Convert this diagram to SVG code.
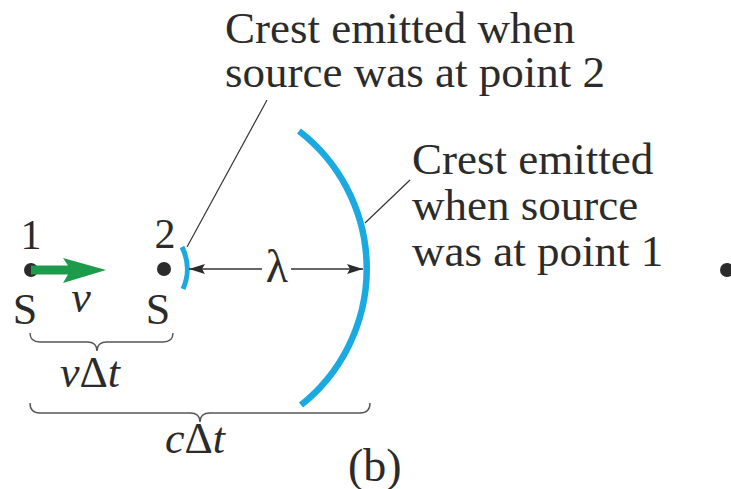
<svg xmlns="http://www.w3.org/2000/svg" width="731" height="489" viewBox="0 0 731 489">
<style>
text{font-family:"Liberation Serif","Times New Roman",serif;fill:#2b2b2b}
.lbl{font-size:45px}
.num{font-size:42px}
.sm{font-size:44px}
.it{font-style:italic}
.crest{fill:none;stroke:#1ba9e1;stroke-linecap:butt}
.lead{fill:none;stroke:#333;stroke-width:1.2}
.brace{fill:none;stroke:#555;stroke-width:1.4}
.dim{fill:none;stroke:#333;stroke-width:1.3}
.dot{fill:#2b2b2b}
</style>
<defs>
<marker id="ah" viewBox="0 0 16 10" refX="16" refY="5" markerWidth="16" markerHeight="10" markerUnits="userSpaceOnUse" orient="auto-start-reverse">
<path d="M0,0 L16,5 L0,10 L3,5 Z" fill="#2b2b2b"/>
</marker>
</defs>
<g id="point1">
<text class="num" x="31" y="249" text-anchor="middle">1</text>
<circle class="dot" cx="31" cy="270" r="7"/>
<text class="sm" x="25" y="324" text-anchor="middle">S</text>
</g>
<g id="velocity">
<path d="M31,265.5 L68,265.5 L63,258 L106,270 L63,283 L68,274.5 L31,274.5 Z" fill="#1d9b4c"/>
<text class="sm it" x="81" y="312" text-anchor="middle">v</text>
</g>
<g id="point2">
<text class="num" x="165" y="248" text-anchor="middle">2</text>
<circle class="dot" cx="164" cy="269" r="7"/>
<text class="sm" x="158" y="324" text-anchor="middle">S</text>
</g>
<g id="crest2">
<path class="crest" stroke-width="5" d="M182,247 A49,49 0 0 1 183,289"/>
</g>
<g id="crest1">
<path class="crest" stroke-width="6.5" d="M299,131 A174,174 0 0 1 301,405"/>
</g>
<g id="label2">
<text class="lbl" x="225" y="43">Crest emitted when</text>
<text class="lbl" x="225" y="87">source was at point 2</text>
</g>
<g id="label1">
<text class="lbl" x="412" y="174">Crest emitted</text>
<text class="lbl" x="412" y="220">when source</text>
<text class="lbl" x="412" y="266">was at point 1</text>
</g>
<g id="observer">
<circle class="dot" cx="727" cy="270" r="7"/>
</g>
<g id="connectors">
<line class="lead" x1="187" y1="247" x2="267" y2="100"/>
<line class="lead" x1="365" y1="223" x2="410" y2="180"/>
<line class="dim" x1="262" y1="269" x2="189" y2="269" marker-end="url(#ah)"/>
<line class="dim" x1="291" y1="269" x2="363" y2="269" marker-end="url(#ah)"/>
<path class="brace" d="M30,333 Q30,342 40,342 L87,342 Q97,342 97,351 Q97,342 107,342 L163,342 Q173,342 173,333"/>
<path class="brace" d="M30,403 Q30,413 40,413 L190,413 Q200,413 200,422 Q200,413 210,413 L360,413 Q370,413 370,403"/>
</g>
<g id="lambda">
<text x="277" y="282" text-anchor="middle" style="font-size:46px">λ</text>
</g>
<g id="dims">
<text class="sm" x="60" y="387"><tspan class="it">v</tspan>Δ<tspan class="it">t</tspan></text>
<text class="sm" x="165" y="453"><tspan class="it">c</tspan>Δ<tspan class="it">t</tspan></text>
<text x="348" y="481" style="font-size:46px">(b)</text>
</g>
</svg>
